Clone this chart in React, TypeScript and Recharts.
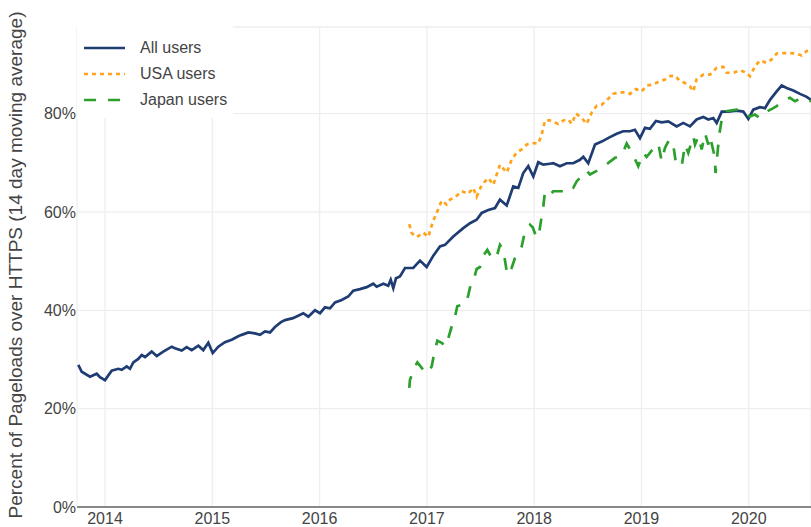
import React from 'react';
import { LineChart, Line, XAxis, YAxis, CartesianGrid, Legend } from 'recharts';

// x values are fractional years, y values are percent of pageloads over HTTPS
const allYears = [
  2013.751, 2013.783, 2013.86, 2013.923, 2013.953, 2014.0, 2014.062, 2014.124, 2014.156, 2014.202,
  2014.233, 2014.264, 2014.31, 2014.342, 2014.373, 2014.435, 2014.482, 2014.543, 2014.622, 2014.652,
  2014.715, 2014.761, 2014.808, 2014.87, 2014.916, 2014.963, 2015.004, 2015.056, 2015.118, 2015.181,
  2015.242, 2015.274, 2015.336, 2015.398, 2015.445, 2015.491, 2015.538, 2015.584, 2015.64, 2015.678,
  2015.752, 2015.848, 2015.895, 2015.957, 2016.004, 2016.05, 2016.097, 2016.144, 2016.206, 2016.267,
  2016.314, 2016.376, 2016.439, 2016.5, 2016.532, 2016.594, 2016.64, 2016.663, 2016.687, 2016.712,
  2016.749, 2016.796, 2016.873, 2016.936, 2016.998, 2017.06, 2017.122, 2017.169, 2017.246, 2017.339,
  2017.402, 2017.464, 2017.511, 2017.572, 2017.635, 2017.681, 2017.744, 2017.805, 2017.852, 2017.898,
  2017.945, 2017.992, 2018.038, 2018.085, 2018.147, 2018.178, 2018.24, 2018.303, 2018.364, 2018.427,
  2018.458, 2018.504, 2018.567, 2018.629, 2018.706, 2018.769, 2018.83, 2018.893, 2018.939, 2018.986,
  2019.033, 2019.079, 2019.135, 2019.188, 2019.25, 2019.328, 2019.39, 2019.452, 2019.514, 2019.576,
  2019.623, 2019.669, 2019.701, 2019.748, 2019.809, 2019.887, 2019.949, 2019.996, 2020.042, 2020.104,
  2020.151, 2020.198, 2020.26, 2020.307, 2020.353, 2020.415, 2020.477, 2020.54, 2020.58,
];
const allUsers = [
  28.9, 27.5, 26.5, 27.1, 26.4, 25.8, 27.7, 28.1, 27.9, 28.6,
  28.1, 29.4, 30.1, 30.9, 30.5, 31.6, 30.7, 31.6, 32.6, 32.3,
  31.8, 32.5, 31.9, 32.8, 31.9, 33.4, 31.3, 32.6, 33.5, 34.0,
  34.7, 35.0, 35.5, 35.3, 35.0, 35.7, 35.5, 36.6, 37.6, 38.0,
  38.4, 39.4, 38.7, 40.0, 39.4, 40.6, 40.4, 41.6, 42.1, 42.8,
  44.0, 44.3, 44.7, 45.4, 44.8, 45.4, 45.0, 46.2, 44.5, 46.5,
  46.9, 48.6, 48.6, 50.1, 48.8, 51.1, 53.0, 53.3, 55.0, 56.7,
  57.7, 58.4, 59.8, 60.4, 60.8, 62.5, 61.3, 65.2, 64.9, 67.9,
  69.3, 67.2, 70.1, 69.6, 69.8, 69.9, 69.3, 69.9, 69.9, 70.6,
  71.2, 69.9, 73.7, 74.3, 75.2, 75.9, 76.4, 76.4, 76.7, 75.0,
  77.1, 76.9, 78.5, 78.2, 78.4, 77.4, 78.1, 77.4, 78.8, 79.3,
  78.8, 79.1, 78.1, 80.4, 80.4, 80.6, 80.4, 78.9, 80.8, 81.3,
  81.1, 82.8, 84.5, 85.7, 85.2, 84.7, 84.0, 83.4, 82.8,
];

const usaYears = [
  2016.836, 2016.858, 2016.905, 2016.967, 2017.013, 2017.054, 2017.091, 2017.138, 2017.184, 2017.215,
  2017.262, 2017.324, 2017.386, 2017.432, 2017.464, 2017.511, 2017.572, 2017.619, 2017.681, 2017.744,
  2017.79, 2017.837, 2017.884, 2017.93, 2017.992, 2018.038, 2018.07, 2018.101, 2018.147, 2018.225,
  2018.271, 2018.318, 2018.349, 2018.39, 2018.443, 2018.489, 2018.536, 2018.583, 2018.629, 2018.676,
  2018.737, 2018.784, 2018.846, 2018.893, 2018.949, 2019.002, 2019.048, 2019.11, 2019.172, 2019.219,
  2019.266, 2019.312, 2019.359, 2019.405, 2019.452, 2019.483, 2019.514, 2019.576, 2019.638, 2019.701,
  2019.762, 2019.794, 2019.856, 2019.918, 2019.98, 2020.011, 2020.058, 2020.104, 2020.167, 2020.213,
  2020.26, 2020.322, 2020.384, 2020.446, 2020.493, 2020.54, 2020.58,
];
const usaUsers = [
  57.5, 55.7, 54.9, 55.8, 54.9, 57.9, 59.8, 62.3, 61.5, 62.5,
  63.0, 64.2, 63.7, 64.9, 63.1, 65.5, 66.9, 65.5, 69.6, 68.0,
  70.6, 72.1, 72.7, 73.7, 74.0, 73.9, 75.7, 78.6, 78.6, 77.9,
  78.6, 78.8, 77.9, 80.0, 79.1, 77.9, 80.2, 81.6, 81.8, 82.7,
  84.0, 84.3, 84.3, 84.0, 85.0, 84.5, 85.7, 85.9, 86.6, 86.9,
  87.6, 87.7, 86.6, 86.2, 85.5, 84.5, 87.0, 87.9, 87.9, 89.3,
  89.5, 88.3, 88.3, 88.8, 88.3, 87.6, 89.6, 90.8, 90.3, 91.0,
  92.2, 92.3, 92.3, 92.2, 91.8, 92.7, 92.9,
];

const japanYears = [
  2016.836, 2016.842, 2016.889, 2016.911, 2016.967, 2017.013, 2017.045, 2017.06, 2017.097, 2017.138,
  2017.169, 2017.19, 2017.231, 2017.256, 2017.283, 2017.324, 2017.364, 2017.386, 2017.408, 2017.427,
  2017.464, 2017.495, 2017.532, 2017.563, 2017.588, 2017.625, 2017.656, 2017.681, 2017.712, 2017.737,
  2017.749, 2017.79, 2017.821, 2017.861, 2017.884, 2017.914, 2017.961, 2017.986, 2018.023, 2018.048,
  2018.07, 2018.085, 2018.101, 2018.147, 2018.178, 2018.271, 2018.303, 2018.364, 2018.396, 2018.489,
  2018.52, 2018.629, 2018.681, 2018.753, 2018.815, 2018.862, 2018.886, 2018.924, 2018.949, 2018.97,
  2019.017, 2019.048, 2019.126, 2019.157, 2019.188, 2019.219, 2019.259, 2019.296, 2019.321, 2019.343,
  2019.375, 2019.405, 2019.436, 2019.483, 2019.499, 2019.53, 2019.561, 2019.592, 2019.623, 2019.638,
  2019.664, 2019.685, 2019.69, 2019.704, 2019.725, 2019.748, 2019.762, 2019.887, 2019.949, 2020.011,
  2020.058, 2020.104, 2020.167, 2020.228, 2020.26, 2020.338, 2020.384, 2020.431, 2020.493, 2020.54,
  2020.58,
];
const japanUsers = [
  24.2, 25.8, 28.6, 29.4, 27.9, 27.2, 28.6, 30.3, 33.8, 33.4,
  32.6, 33.6, 36.7, 38.1, 40.8, 41.1, 41.3, 43.1, 45.2, 45.5,
  48.4, 48.8, 51.3, 52.3, 51.3, 50.3, 51.3, 53.3, 52.3, 48.9,
  47.2, 48.6, 50.6, 52.0, 53.0, 56.0, 57.4, 56.9, 54.7, 56.0,
  59.1, 61.1, 64.2, 63.5, 64.2, 64.2, 65.1, 64.9, 66.2, 68.4,
  67.6, 68.9, 69.8, 71.0, 71.4, 73.9, 73.0, 71.4, 70.3, 69.3,
  72.0, 71.2, 73.3, 73.9, 70.3, 73.0, 74.7, 73.7, 69.9, 69.6,
  69.3, 73.7, 72.0, 75.4, 73.7, 75.4, 72.7, 76.0, 73.7, 75.4,
  73.0, 71.0, 67.9, 71.0, 75.7, 78.8, 80.4, 80.8, 80.4, 79.4,
  79.8, 79.1, 80.4, 81.1, 81.5, 82.8, 83.2, 82.5, 83.2, 82.8,
  82.5,
];

const xTicks = [2014, 2015, 2016, 2017, 2018, 2019, 2020];
const yTicks = [0, 20, 40, 60, 80];
const seriesNames = ['All users', 'USA users', 'Japan users'];

const toPoints = (years: number[], values: number[]) =>
  years.map((year, i) => ({ year, value: values[i] }));

const allData = toPoints(allYears, allUsers);
const usaData = toPoints(usaYears, usaUsers);
const japanData = toPoints(japanYears, japanUsers);

const COLORS = ['#1f3d73', '#ffa31a', '#2ca02c'];
const DASHES = [undefined, '4 4', '12 12'];
const FONT = '"Liberation Sans", Arial, sans-serif';

const LegendBox = () => (
  <div style={{ background: '#fff', width: 156, height: 93, fontFamily: FONT, fontSize: 16, color: '#444' }}>
    {seriesNames.map((name, i) => (
      <div key={name} style={{ position: 'absolute', left: 7, top: 10 + i * 26, height: 26, display: 'flex', alignItems: 'center' }}>
        <svg width={44} height={6} style={{ marginRight: 12 }}>
          <line x1={0} y1={3} x2={41} y2={3} stroke={COLORS[i]} strokeWidth={2.7} strokeDasharray={DASHES[i]} />
        </svg>
        <span>{name}</span>
      </div>
    ))}
  </div>
);

const YTitle = () => (
  <text
    transform="rotate(-90)"
    x={-265}
    y={15}
    textAnchor="middle"
    dominantBaseline="central"
    fontFamily={FONT}
    fontSize={19}
    fill="#444"
  >
    Percent of Pageloads over HTTPS (14 day moving average)
  </text>
);

const App = () => {
  return (
    <div style={{ position: 'absolute', left: 0, top: 0, width: 811, height: 527, background: '#fff' }}>
      <LineChart width={811} height={527} margin={{ top: 27, right: 0, bottom: 0, left: 0 }}>
        <CartesianGrid stroke="#eee" strokeWidth={1.3} />
        <XAxis
          type="number"
          dataKey="year"
          domain={[2013.739, 2020.58]}
          ticks={xTicks}
          allowDataOverflow
          height={20}
          tickLine={false}
          tickSize={0}
          tickMargin={6}
          axisLine={{ stroke: '#888', strokeWidth: 2 }}
          tick={{ fill: '#444', fontSize: 16, fontFamily: FONT }}
        />
        <YAxis
          type="number"
          domain={[0, 97.6]}
          ticks={yTicks}
          width={77}
          tickLine={false}
          tickSize={0}
          tickMargin={1}
          axisLine={false}
          tickFormatter={(v: number) => `${v}%`}
          tick={{ fill: '#444', fontSize: 16, fontFamily: FONT }}
          label={{ content: () => <YTitle /> }}
        />
        <Legend
          layout="vertical"
          align="center"
          verticalAlign="middle"
          wrapperStyle={{ left: 77, top: 25, width: 156, height: 93 }}
          content={() => <LegendBox />}
        />
        <Line data={allData} dataKey="value" name={seriesNames[0]} stroke={COLORS[0]} strokeWidth={2.7} dot={false} isAnimationActive={false} />
        <Line data={usaData} dataKey="value" name={seriesNames[1]} stroke={COLORS[1]} strokeWidth={2.7} strokeDasharray={DASHES[1]} dot={false} isAnimationActive={false} />
        <Line data={japanData} dataKey="value" name={seriesNames[2]} stroke={COLORS[2]} strokeWidth={2.7} strokeDasharray={DASHES[2]} dot={false} isAnimationActive={false} />
      </LineChart>
    </div>
  );
};

export default App;
